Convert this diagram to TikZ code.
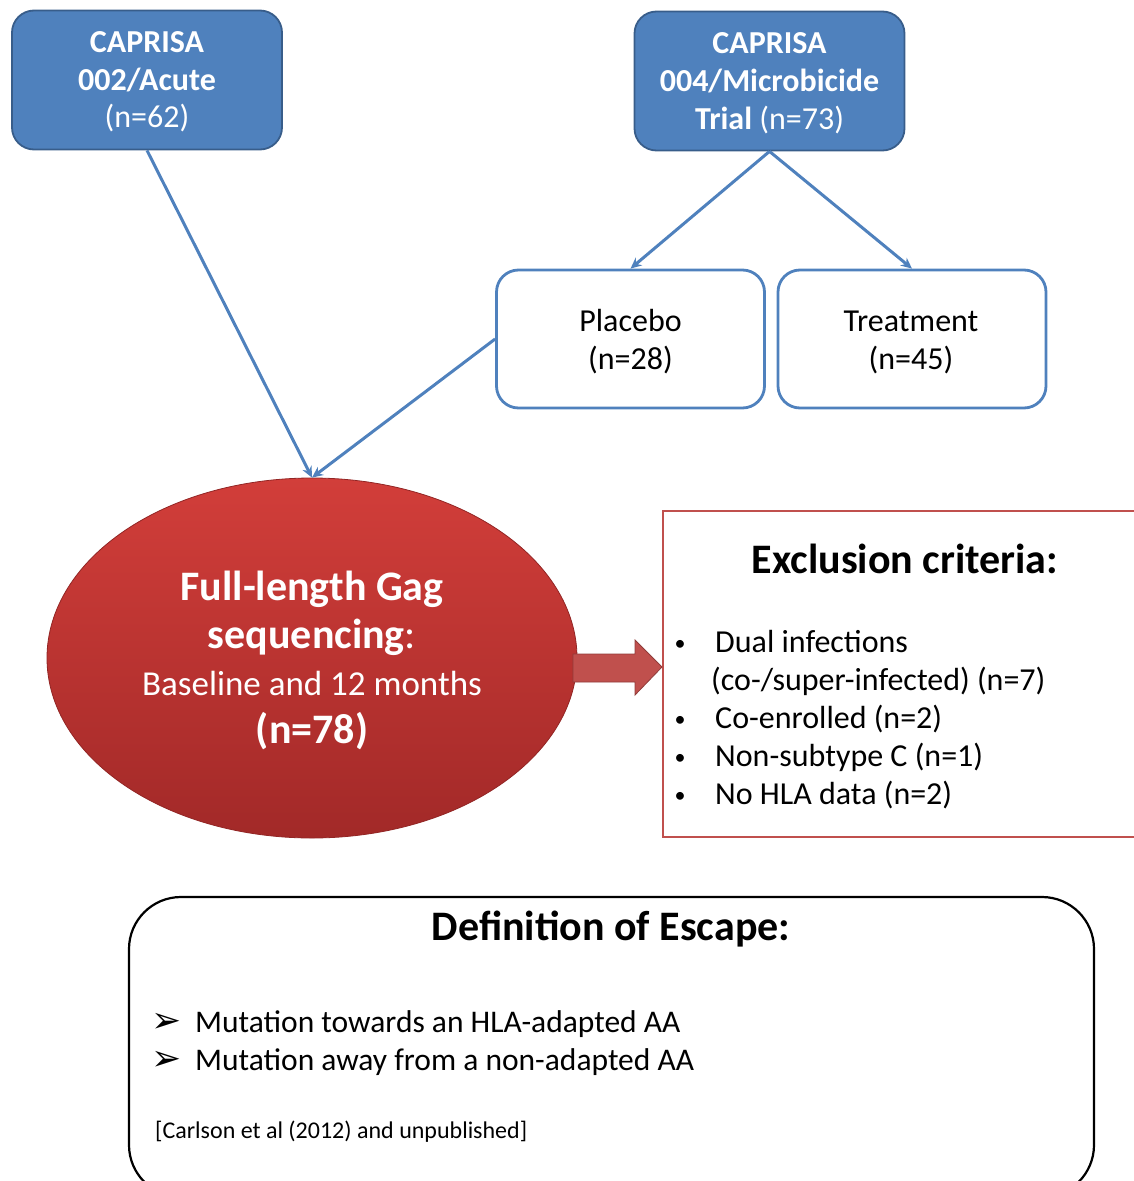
\documentclass[tikz,border=0pt]{standalone}
\usepackage{fontspec}
\setmainfont{Carlito}
\newfontfamily\djv{DejaVu Sans}
\usetikzlibrary{arrows.meta,shapes.geometric}
\definecolor{bfill}{HTML}{4F81BD}
\definecolor{bdark}{HTML}{385D8A}
\definecolor{rtop}{HTML}{D23E3A}
\definecolor{rbot}{HTML}{A22928}
\definecolor{rline}{HTML}{C0504D}
\tikzset{
  bluebox/.style={draw=bdark, line width=1.8pt, fill=bfill, rounded corners=22pt, minimum width=270pt, minimum height=139pt},
  whitebox/.style={draw=bfill, line width=2.8pt, fill=white, rounded corners=22pt, minimum width=268pt, minimum height=138pt},
  conn/.style={draw=bfill, line width=3pt, -{Stealth[length=11pt,width=10pt]}},
  wtxt/.style={text=white, anchor=base, inner sep=0pt},
  ktxt/.style={text=black, anchor=base, inner sep=0pt},
}
\begin{document}
\begin{tikzpicture}[x=1pt,y=-1pt]
\useasboundingbox (0,0) rectangle (1134,1181);
\clip (0,0) rectangle (1134,1181);
% top boxes
\node[bluebox] (b1) at (147,80) {};
\node[bluebox] (b2) at (769.5,81) {};
\node[whitebox] (pl) at (630.5,339) {};
\node[whitebox] (tr) at (912,339) {};
% ellipse
\node[ellipse, minimum width=530pt, minimum height=360pt, draw=rbot!90!black, line width=0.8pt, top color=rtop, bottom color=rbot] (el) at (312,658) {};
% connectors
\draw[conn] (b1.south) -- (el.north);
\draw[conn] (pl.west) -- (el.north);
\draw[conn] (b2.south) -- (pl.north);
\draw[conn] (b2.south) -- (tr.north);
% box texts
\node[wtxt, font=\fontsize{32}{38}\selectfont\bfseries] (t1a) at (147,52) {CAPRISA};
\node[wtxt, font=\fontsize{32}{38}\selectfont\bfseries] (t1b) at (147,90) {002/Acute};
\node[wtxt, font=\fontsize{32}{38}\selectfont] (t1c) at (147,127) {(n=62)};
\node[wtxt, font=\fontsize{32}{38}\selectfont\bfseries] (t2a) at (769.5,53) {CAPRISA};
\node[wtxt, font=\fontsize{32}{38}\selectfont\bfseries] (t2b) at (769.5,91) {004/Microbicide};
\node[wtxt, font=\fontsize{32}{38}\selectfont] (t2c) at (769.5,129) {\textbf{Trial} (n=73)};
\node[ktxt, font=\fontsize{32}{38}\selectfont] (p1) at (630.5,331) {Placebo};
\node[ktxt, font=\fontsize{32}{38}\selectfont] (p2) at (630.5,369) {(n=28)};
\node[ktxt, font=\fontsize{32}{38}\selectfont] (q1) at (911,331) {Treatment};
\node[ktxt, font=\fontsize{32}{38}\selectfont] (q2) at (911,369) {(n=45)};
% ellipse texts
\node[wtxt, font=\fontsize{42}{48}\selectfont\bfseries] (e1) at (312,600) {Full-length Gag};
\node[wtxt, font=\fontsize{42}{48}\selectfont] (e2) at (312,648) {\textbf{sequencing}:};
\node[wtxt, font=\fontsize{35}{42}\selectfont] (e3) at (312,695) {Baseline and 12 months};
\node[wtxt, font=\fontsize{42}{48}\selectfont\bfseries] (e4) at (312,743) {(n=78)};
% exclusion box
\node[draw=rline, line width=2pt, minimum width=480pt, minimum height=326pt, anchor=north west, inner sep=0pt] (ex) at (662,510) {};
\node[ktxt, font=\fontsize{42}{48}\selectfont\bfseries] (ext) at (905,573) {Exclusion criteria:};
\foreach \y/\t [count=\i] in {652/Dual infections, 728/Co-enrolled (n=2), 766/Non-subtype C (n=1), 804/No HLA data (n=2)}{
  \node[ktxt, font=\fontsize{22}{34}\selectfont] (bu\i) at (680,\y-2) {•};
  \node[ktxt, anchor=base west, font=\fontsize{32}{38}\selectfont] (it\i) at (715,\y) {\t};
}
\node[ktxt, anchor=base west, font=\fontsize{32}{38}\selectfont] (it5) at (711,690) {(co-/super-infected) (n=7)};
% block arrow
\filldraw[fill=rline, draw=rline!75!black, line width=0.8pt]
  (573,654) -- (635,654) -- (635,640) -- (662,667) -- (635,695) -- (635,682) -- (573,682) -- cycle;
% bottom box
\draw[black, line width=2.2pt, rounded corners=52pt] (129,897) rectangle (1094,1197);
\node[ktxt, font=\fontsize{42}{48}\selectfont\bfseries] (dt) at (611,940) {Definition of Escape:};
\node[ktxt, font=\djv\fontsize{36}{40}\selectfont] (a1) at (167,1032) {➢};
\node[ktxt, font=\djv\fontsize{36}{40}\selectfont] (a2) at (167,1070) {➢};
\node[ktxt, anchor=base west, font=\fontsize{31.5}{38}\selectfont] (m1) at (195,1032) {Mutation towards an HLA-adapted AA};
\node[ktxt, anchor=base west, font=\fontsize{31.5}{38}\selectfont] (m2) at (195,1070) {Mutation away from a non-adapted AA};
\node[ktxt, anchor=base west, font=\fontsize{24}{28}\selectfont] (cit) at (155,1138) {[Carlson et al (2012) and unpublished]};
\end{tikzpicture}
\end{document}
